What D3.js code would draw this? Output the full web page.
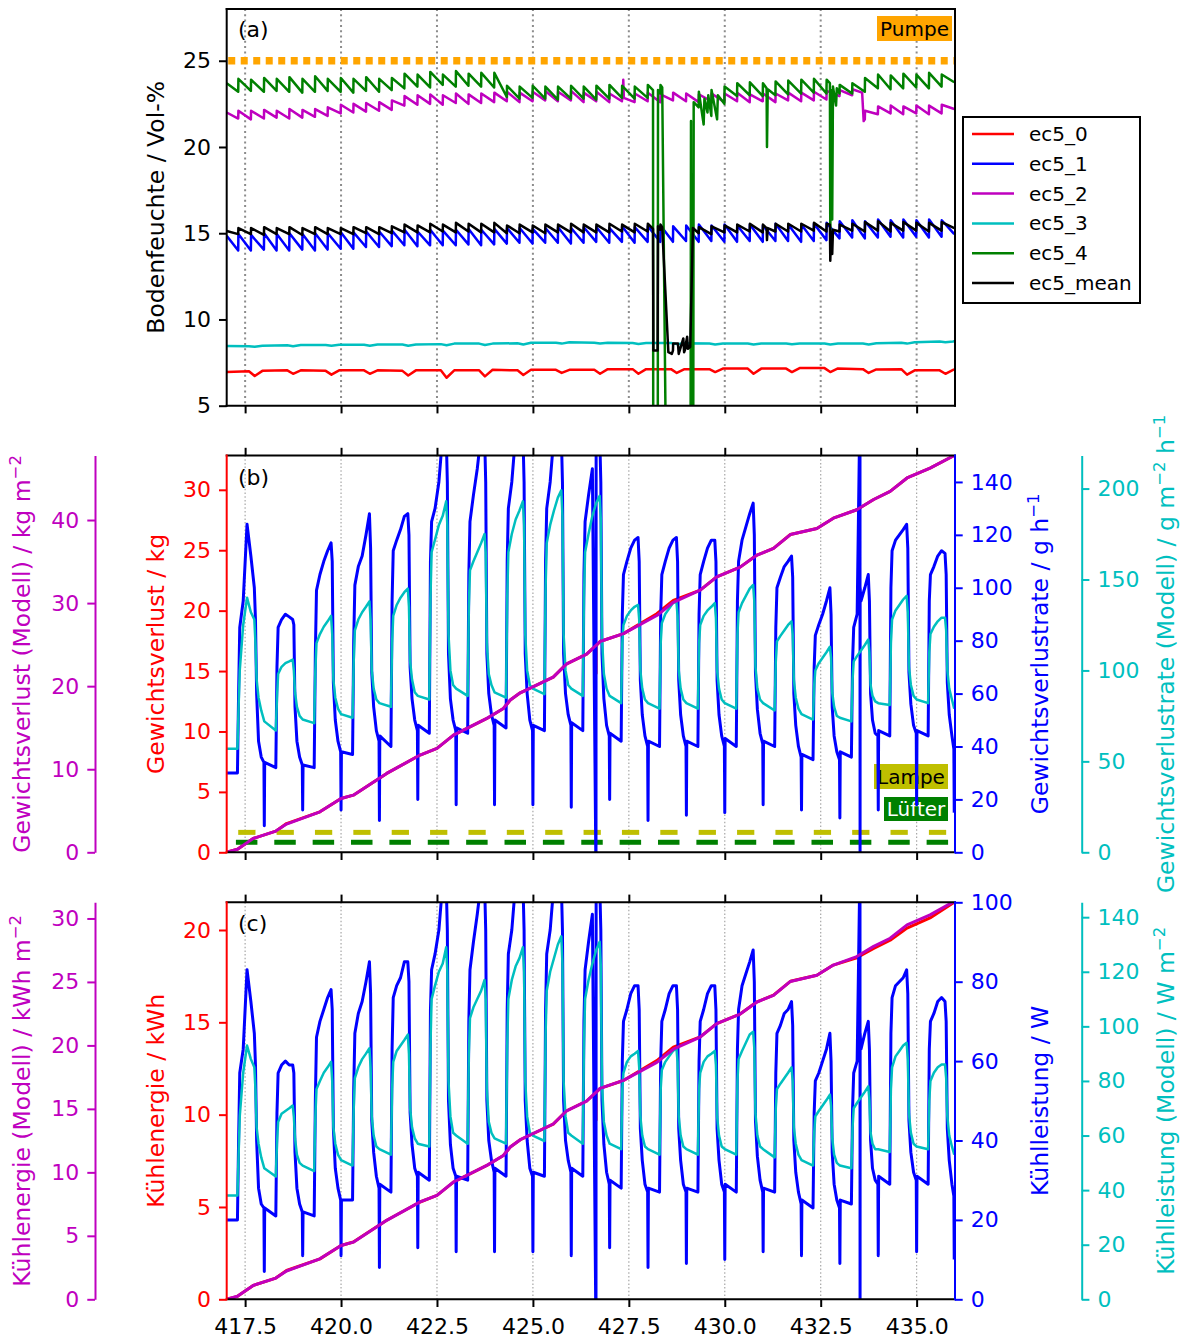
<!DOCTYPE html>
<html><head><meta charset="utf-8">
<script src="https://cdn.jsdelivr.net/npm/d3@7"></script>
<style>body{margin:0;background:#fff}svg{display:block}</style>
</head><body><svg id="c" width="1184" height="1338"></svg>
<script>
// ---------------- DATA ----------------
const xDomain = [417.02, 436.0];
const xTicks = [417.5, 420.0, 422.5, 425.0, 427.5, 430.0, 432.5, 435.0];
const days = [417,418,419,420,421,422,423,424,425,426,427,428,429,430,431,432,433,434,435];

// Panel (a): pump events (sawtooth jumps)
const pumpT = [417.32,417.65,417.99,418.32,418.65,418.99,419.32,419.65,419.99,420.32,420.65,420.99,
 421.32,421.65,421.99,422.32,422.65,422.99,423.32,423.65,423.99,424.32,424.65,424.99,425.32,425.65,425.99,
 426.32,426.65,426.99,427.32,427.65,427.99,428.32,428.65,428.99,429.32,429.65,429.99,430.32,430.65,430.99,
 431.32,431.65,431.99,432.32,432.65,432.99,433.32,433.65,433.99,434.32,434.65,434.99,435.32,435.65];

const ec5_4_trough = [23.2,23.25,23.2,23.25,23.2,23.15,23.2,23.25,23.2,23.15,23.25,23.2,23.3,23.4,23.5,23.45,23.6,23.5,23.55,23.5,23.45,22.9,22.8,22.85,22.8,22.75,22.8,22.8,22.75,22.8,22.85,22.8,22.85,23.1,-12,-12,22.3,21.8,22.5,22.95,23.0,22.95,23.0,23.05,23.1,23.15,23.1,23.1,23.1,23.2,23.4,23.35,23.4,23.45,23.4,23.5];
const ec5_4_peak = [23.95,23.9,24.0,23.95,24.05,23.95,24.1,23.95,24.0,23.95,24.05,23.95,24.0,24.25,24.2,24.35,24.2,24.4,24.25,24.3,24.3,23.55,23.5,23.55,23.5,23.5,23.55,23.5,23.55,23.6,23.55,23.5,23.6,23.6,-12,-12,23.2,23.3,23.5,23.7,23.75,23.7,23.8,23.85,23.9,23.95,23.9,23.6,23.7,24.0,24.2,24.15,24.25,24.2,24.3,24.2];
const ec5_4_extra = [[417.02,23.7],[428.13,23.3],[428.14,-12],[428.25,-12],[428.26,23.3],[428.37,23.45],[428.53,-12],[429.10,-12],[429.12,21.5],[429.14,-12],[429.17,-12],[429.19,22.6],[429.45,21.3],[429.47,22.8],[429.55,22.0],[429.57,23.0],[429.8,21.6],[429.82,23.0],[431.09,23.4],[431.10,20.0],[431.12,23.35],[432.74,23.7],[432.75,14.5],[432.77,23.3],[432.80,15.8],[432.82,23.5],[432.90,22.4],[432.92,23.4],[435.98,23.75]];

const ec5_mean_trough = [14.95,14.95,14.9,14.95,14.95,14.9,14.95,14.95,14.95,14.95,15.0,14.95,15.0,15.05,15.05,15.05,15.1,15.05,15.1,15.05,15.05,15.0,15.0,15.05,15.0,15.05,15.05,15.05,15.05,15.05,15.1,15.05,15.1,15.2,8.2,8.4,15.0,14.95,15.05,15.05,15.1,15.05,15.1,15.1,15.1,15.15,15.1,15.1,15.15,15.1,15.15,15.1,15.15,15.15,15.1,15.15];
const ec5_mean_peak = [15.3,15.3,15.35,15.3,15.35,15.3,15.35,15.3,15.3,15.35,15.35,15.35,15.4,15.5,15.45,15.55,15.5,15.6,15.55,15.55,15.6,15.45,15.5,15.45,15.5,15.5,15.55,15.5,15.5,15.55,15.5,15.55,15.55,15.5,8.6,8.7,15.35,15.4,15.45,15.5,15.55,15.5,15.55,15.55,15.55,15.6,15.55,15.5,15.55,15.65,15.7,15.6,15.65,15.6,15.6,15.65];
const ec5_mean_extra = [[417.02,15.13],[428.13,15.25],[428.14,8.2],[428.25,8.2],[428.26,15.4],[428.37,15.35],[428.53,8.1],[428.62,8.0],[428.78,8.6],[428.80,8.0],[428.92,8.9],[428.94,8.1],[429.02,9.0],[429.04,8.3],[429.10,8.4],[429.17,15.3],[431.09,15.3],[431.10,14.6],[431.12,15.3],[432.74,15.5],[432.75,13.4],[432.77,15.1],[432.80,13.8],[432.82,15.2],[435.98,15.3]];

const ec5_1_trough = [14.0,14.0,14.05,14.0,14.0,14.05,14.0,14.05,14.1,14.1,14.2,14.2,14.25,14.3,14.25,14.3,14.3,14.3,14.35,14.3,14.35,14.4,14.45,14.4,14.45,14.45,14.4,14.45,14.5,14.45,14.5,14.45,14.5,14.5,14.5,14.55,14.5,14.55,14.5,14.5,14.55,14.5,14.55,14.55,14.5,14.55,14.6,14.7,14.75,14.7,14.75,14.8,14.75,14.8,14.75,14.8];
const ec5_1_peak = [14.95,14.9,15.0,14.95,15.0,14.95,15.0,15.0,15.05,15.05,15.1,15.1,15.15,15.2,15.1,15.2,15.15,15.2,15.25,15.2,15.25,15.3,15.3,15.25,15.3,15.35,15.3,15.35,15.35,15.3,15.4,15.35,15.4,15.45,15.4,15.45,15.5,15.45,15.5,15.45,15.5,15.45,15.55,15.5,15.5,15.55,15.6,15.7,15.75,15.7,15.8,15.75,15.8,15.75,15.8,15.75];
const ec5_1_extra = [[417.02,14.85],[435.98,14.95]];

const ec5_2_trough = [21.65,21.6,21.65,21.7,21.65,21.7,21.75,21.8,21.95,22.0,22.05,22.1,22.15,22.4,22.45,22.5,22.45,22.55,22.5,22.55,22.6,22.65,22.6,22.65,22.7,22.65,22.7,22.6,22.65,22.6,22.65,22.6,22.65,22.6,22.7,22.65,22.6,22.65,22.6,22.65,22.6,22.65,22.6,22.7,22.65,22.7,22.75,22.95,23.0,21.6,21.9,21.95,21.9,21.95,21.9,21.95];
const ec5_2_peak = [22.1,22.1,22.15,22.1,22.2,22.15,22.2,22.3,22.45,22.5,22.55,22.6,22.7,22.95,23.0,23.05,23.0,23.1,23.05,23.1,23.15,23.2,23.15,23.2,23.25,23.2,23.25,23.15,23.2,23.1,23.15,23.1,23.15,23.05,23.15,23.1,23.05,23.1,23.1,23.15,23.05,23.1,23.1,23.15,23.15,23.2,23.25,23.3,23.35,22.1,22.35,22.4,22.35,22.4,22.4,22.45];
const ec5_2_extra = [[417.02,22.0],[427.34,22.8],[427.355,23.9],[427.37,22.85],[433.58,23.15],[433.62,21.5],[435.98,22.2]];

// ec5_0 and ec5_3: daily values at phases .60 / .75 / .95
const soilPhases = [0.60, 0.75, 0.95];
const ec5_0_daily = [[7.0,6.72,7.02],[7.05,6.85,7.05],[7.02,6.8,7.05],[7.05,6.85,7.05],[7.02,6.75,7.05],[7.05,6.62,7.05],[7.05,6.7,7.08],[7.05,6.78,7.08],[7.08,6.9,7.08],[7.08,6.85,7.12],[7.12,6.85,7.12],[7.12,6.9,7.12],[7.12,6.95,7.15],[7.15,6.85,7.15],[7.15,6.95,7.18],[7.18,6.95,7.16],[7.12,6.9,7.1],[7.12,6.8,7.05],[7.05,6.85,7.08]];
const ec5_0_extra = [[417.02,6.95],[435.98,7.1]];
const ec5_3_daily = [[8.45,8.42,8.48],[8.5,8.45,8.52],[8.52,8.47,8.53],[8.53,8.47,8.55],[8.55,8.48,8.55],[8.57,8.5,8.6],[8.6,8.52,8.6],[8.62,8.55,8.65],[8.65,8.6,8.68],[8.65,8.6,8.65],[8.63,8.58,8.63],[8.63,8.57,8.62],[8.6,8.55,8.6],[8.6,8.55,8.6],[8.6,8.56,8.6],[8.6,8.55,8.6],[8.6,8.55,8.62],[8.65,8.6,8.68],[8.72,8.68,8.72]];
const ec5_3_extra = [[417.02,8.46],[435.98,8.74]];

// Panel (b)/(c): measured rate (phases within each day)
const ratePhases = [0.00,0.01,0.30,0.33,0.36,0.45,0.55,0.65,0.74,0.77,0.80,0.85,0.92,0.99];
const rateB = [
 [30,30,30,60,85,95,124,112,100,88,60,42,36,34],
 [10,34,32,70,85,88,90,89,88,86,55,42,36,33],
 [16,33,32,75,99,105,110,114,117,110,64,50,42,38],
 [16,38,37,80,101,108,112,120,128,115,68,55,46,42],
 [12,44,40,95,114,118,122,127,128,120,70,58,50,46],
 [20,48,45,110,125,130,140,158,158,140,75,58,50,46],
 [18,47,45,105,125,135,145,158,158,140,75,60,52,48],
 [18,50,47,110,130,140,158,158,158,140,75,60,50,46],
 [18,48,46,110,130,140,158,158,158,140,75,60,52,48],
 [17,49,46,105,125,135,145,158,158,140,75,58,48,44],
 [20,45,42,90,105,110,115,118,119,110,65,52,44,40],
 [12,42,40,90,105,110,115,118,119,110,65,52,44,40],
 [14,42,40,90,105,110,115,118,118,110,65,52,44,40],
 [15,43,40,95,110,118,123,128,132,120,68,54,45,41],
 [18,42,40,85,100,104,108,110,112,104,60,48,40,36],
 [16,37,35,70,82,86,90,95,100,90,55,44,38,35],
 [13,38,36,72,85,90,95,100,105,95,60,50,45,44],
 [16,46,44,100,114,118,120,122,124,115,68,56,48,45],
 [18,46,44,95,105,108,112,114,113,105,64,52,44,40]];
const rateB_extra = [[417.02,30],[426.644,-10],[426.648,158],[433.524,170],[433.526,-10],[433.528,100],[435.97,39],[435.98,15]];
const powerC = [
 [20,20,20,40,57,63,83,75,67,59,40,28,24,23],
 [7,23,21,47,57,59,60,59,59,57,37,28,24,22],
 [11,22,21,50,66,70,73,76,78,73,43,33,28,25],
 [11,25,25,53,67,72,75,80,85,77,45,37,31,28],
 [8,29,27,63,76,79,81,85,85,80,47,39,33,31],
 [13,32,30,73,83,87,93,105,105,93,50,39,33,31],
 [12,31,30,70,83,90,97,105,105,93,50,40,35,32],
 [12,33,31,73,87,93,105,105,105,93,50,40,33,31],
 [12,32,31,73,87,93,105,105,105,93,50,40,35,32],
 [11,33,31,70,83,90,97,105,105,93,50,39,32,29],
 [13,30,28,60,70,73,77,79,79,73,43,35,29,27],
 [8,28,27,60,70,73,77,79,79,73,43,35,29,27],
 [9,28,27,60,70,73,77,79,79,73,43,35,29,27],
 [10,29,27,63,73,79,82,85,88,80,45,36,30,27],
 [12,28,27,57,67,69,72,73,75,69,40,32,27,24],
 [11,25,23,47,55,57,60,63,67,60,37,29,25,23],
 [9,25,24,48,57,60,63,67,70,63,40,33,30,29],
 [11,31,29,67,76,79,80,81,83,77,45,37,32,30],
 [12,31,29,63,70,72,75,76,75,70,43,35,29,27]];
const powerC_extra = [[417.02,20],[426.644,-10],[426.648,105],[433.524,110],[433.526,-10],[433.528,67],[435.97,26],[435.98,10]];

// Model rates
const modelPhases = [0.00,0.30,0.33,0.36,0.45,0.55,0.65,0.74,0.77,0.80,0.85,0.92];
const rateModelB = [
 [57,57,80,100,125,140,132,128,115,95,85,78],
 [72,67,85,98,102,104,105,106,100,88,80,75],
 [73,71,100,115,120,124,127,130,120,95,85,79],
 [76,74,105,122,128,132,135,138,128,100,90,84],
 [82,80,115,130,136,140,143,145,135,105,95,88],
 [86,84,140,165,172,180,185,193,180,120,100,92],
 [90,86,135,155,160,165,170,175,165,115,98,92],
 [88,85,140,165,175,183,188,193,180,120,100,92],
 [90,87,145,170,180,188,195,199,185,120,100,92],
 [90,86,140,165,175,185,192,196,183,118,98,90],
 [86,82,115,125,130,133,135,136,128,100,90,84],
 [82,79,115,126,131,134,137,138,130,100,90,84],
 [82,79,115,125,130,133,135,137,129,100,90,84],
 [82,79,120,132,137,141,145,147,138,102,90,84],
 [82,78,105,116,119,122,125,127,120,95,85,79],
 [76,73,92,100,104,107,110,113,107,88,80,75],
 [74,72,95,105,108,111,114,117,110,92,86,83],
 [82,81,115,128,133,136,139,141,132,102,92,86],
 [84,82,110,120,124,127,129,129,122,100,90,84]];
const rateModelB_extra = [[417.02,57],[435.98,79]];
const powerModelC = [
 [38,38,53,67,83,93,88,85,77,63,57,52],
 [48,45,57,65,68,69,70,71,67,59,53,50],
 [49,47,67,77,80,83,85,87,80,63,57,53],
 [51,49,70,81,85,88,90,92,85,67,60,56],
 [55,53,77,87,91,93,95,97,90,70,63,59],
 [57,56,93,110,115,120,123,129,120,80,67,61],
 [60,57,90,103,107,110,113,117,110,77,65,61],
 [59,57,93,110,117,122,125,129,120,80,67,61],
 [60,58,97,113,120,125,130,133,123,80,67,61],
 [60,57,93,110,117,123,128,131,122,79,65,60],
 [57,55,77,83,87,89,90,91,85,67,60,56],
 [55,53,77,84,87,89,91,92,87,67,60,56],
 [55,53,77,83,87,89,90,91,86,67,60,56],
 [55,53,80,88,91,94,97,98,92,68,60,56],
 [55,52,70,77,79,81,83,85,80,63,57,53],
 [51,49,61,67,69,71,73,75,71,59,53,50],
 [49,48,63,70,72,74,76,78,73,61,57,55],
 [55,54,77,85,89,91,93,94,88,68,61,57],
 [56,55,73,80,83,85,86,86,81,67,60,56]];
const powerModelC_extra = [[417.02,38],[435.98,53]];

// Cumulative series
const tCum = [417.02,417.30,417.71,418.30,418.58,419.45,420.00,420.32,421.19,422.06,422.50,422.93,423.80,424.23,424.41,424.67,425.53,425.88,426.40,426.75,427.36,428.23,428.66,429.36,429.79,430.40,430.84,431.27,431.71,432.40,432.83,433.44,433.88,434.31,434.75,435.35,435.98];
const lossB = [0,0.25,1.14,1.75,2.38,3.35,4.45,4.73,6.53,8.05,8.6,9.7,11.08,11.9,12.6,13.2,14.5,15.6,16.4,17.45,18.1,19.75,20.85,21.7,22.8,23.6,24.6,25.15,26.3,26.8,27.65,28.35,29.2,29.87,30.98,31.8,32.84];
const lossB_extra = [[426.643,17.1],[426.645,14.8],[426.647,17.1]];
const lossModelB = [0,0.36,1.66,2.55,3.40,4.87,6.47,6.88,9.50,11.71,12.51,14.11,16.12,17.31,18.33,19.2,21.09,22.69,23.85,25.38,26.33,28.5,30.1,31.56,33.16,34.33,35.78,36.58,38.25,38.98,40.22,41.24,42.47,43.45,45.06,46.25,47.77];
const energyC = [0,0.16,0.75,1.15,1.56,2.19,2.91,3.1,4.28,5.27,5.63,6.35,7.25,7.79,8.25,8.64,9.49,10.21,10.74,11.42,11.85,12.93,13.65,14.21,14.93,15.45,16.11,16.47,17.22,17.55,18.1,18.5,19.0,19.45,20.1,20.65,21.5];
const energyC_extra = [[426.643,11.2],[426.645,9.7],[426.647,11.2]];
const energyModelC = [0,0.24,1.09,1.67,2.23,3.19,4.24,4.5,6.22,7.67,8.19,9.24,10.55,11.33,12.0,12.57,13.81,14.85,15.61,16.61,17.24,18.66,19.7,20.66,21.71,22.47,23.42,23.94,25.04,25.52,26.33,27.0,27.8,28.44,29.5,30.28,31.35];

// Device state (on intervals)
const lampOn = [[417.32,417.77],[418.32,418.77],[419.32,419.77],[420.32,420.77],[421.32,421.77],[422.32,422.77],[423.32,423.77],[424.32,424.77],[425.32,425.77],[426.32,426.77],[427.32,427.77],[428.32,428.77],[429.32,429.77],[430.32,430.77],[431.32,431.77],[432.32,432.77],[433.32,433.77],[434.32,434.77],[435.32,435.77]];
const fanOn = [[417.26,417.82],[418.26,418.82],[419.26,419.82],[420.26,420.82],[421.26,421.82],[422.26,422.82],[423.26,423.82],[424.26,424.82],[425.26,425.82],[426.26,426.82],[427.26,427.82],[428.26,428.82],[429.26,429.82],[430.26,430.82],[431.26,431.82],[432.26,432.82],[433.26,433.82],[434.26,434.82],[435.26,435.82]];
const pumpRange = [417.06, 435.97];
const pumpLevel = 25, lampLevel = 1.65, fanLevel = 0.83;

const legendNames = ['ec5_0','ec5_1','ec5_2','ec5_3','ec5_4','ec5_mean'];
const soilTicks = [5,10,15,20,25];
const lossTicks = [0,5,10,15,20,25,30], lossModelTicks = [0,10,20,30,40];
const rateTicks = [0,20,40,60,80,100,120,140], rateModelTicks = [0,50,100,150,200];
const energyTicks = [0,5,10,15,20], energyModelTicks = [0,5,10,15,20,25,30];
const powerTicks = [0,20,40,60,80,100], powerModelTicks = [0,20,40,60,80,100,120,140];

// ---------------- DRAWING ----------------
const FONT = '"DejaVu Sans", Verdana, sans-serif';
const C = {red:'#ff0000', blue:'#0000ff', mag:'#bf00bf', cyan:'#00bfbf', green:'#008000', black:'#000000', orange:'#ffa500', olive:'#bfbf00'};
const L = 226.7, R = 955;
const PA = [9, 405.7], PB = [455.5, 852.3], PC = [902.3, 1299.3];
const svg = d3.select('#c');
const x = d3.scaleLinear().domain(xDomain).range([L, R]);
const AREA = 0.6875;

const yA = d3.scaleLinear().domain([5, 28]).range([PA[1], PA[0]]);
const yBr = d3.scaleLinear().domain([0, 32.84]).range([PB[1], PB[0]]);
const yBm = d3.scaleLinear().domain([0, 32.84 / AREA]).range([PB[1], PB[0]]);
const yBb = d3.scaleLinear().domain([0, 150]).range([PB[1], PB[0]]);
const yBc = d3.scaleLinear().domain([0, 150 / AREA]).range([PB[1], PB[0]]);
const yCr = d3.scaleLinear().domain([0, 21.5]).range([PC[1], PC[0]]);
const yCm = d3.scaleLinear().domain([0, 21.5 / AREA]).range([PC[1], PC[0]]);
const yCb = d3.scaleLinear().domain([0, 100]).range([PC[1], PC[0]]);
const yCc = d3.scaleLinear().domain([0, 100 / AREA]).range([PC[1], PC[0]]);

function daily(phases, table, extra) {
  const pts = [];
  days.forEach((d, i) => phases.forEach((p, j) => { const t = d + p; if (t >= 417.02 && t <= 435.965) pts.push([t, table[i][j]]); }));
  return pts.concat(extra).sort((a, b) => a[0] - b[0]);
}
function saw(troughs, peaks, extra) {
  const pts = [];
  pumpT.forEach((t, k) => { pts.push([t, troughs[k]], [t + 0.005, peaks[k]]); });
  return pts.concat(extra).sort((a, b) => a[0] - b[0]);
}
function cum(vals, extra) {
  return tCum.map((t, i) => [t, vals[i]]).concat(extra || []).sort((a, b) => a[0] - b[0]);
}

const defs = svg.append('defs');
[['clipA', PA], ['clipB', PB], ['clipC', PC]].forEach(([id, p]) => {
  defs.append('clipPath').attr('id', id).append('rect').attr('x', L).attr('y', p[0]).attr('width', R - L).attr('height', p[1] - p[0]);
});

function grid(p, w, col, dash) {
  svg.append('g').selectAll('line').data(xTicks).join('line')
    .attr('x1', d => x(d)).attr('x2', d => x(d)).attr('y1', p[0]).attr('y2', p[1])
    .attr('stroke', col).attr('stroke-width', w).attr('stroke-dasharray', dash);
}
function drawLine(pts, ys, color, w, clip) {
  svg.append('path').datum(pts)
    .attr('d', d3.line().x(d => x(d[0])).y(d => ys(d[1])))
    .attr('fill', 'none').attr('stroke', color).attr('stroke-width', w)
    .attr('stroke-linejoin', 'round').attr('clip-path', `url(#${clip})`);
}
function yAxis(scale, xpos, side, color, ticks, keepDomain) {
  const gen = (side === 'left' ? d3.axisLeft(scale) : d3.axisRight(scale))
    .tickValues(ticks).tickSize(7.7).tickPadding(8).tickSizeOuter(0).tickFormat(d3.format('d'));
  const g = svg.append('g').attr('transform', `translate(${xpos},0)`).call(gen);
  g.attr('font-family', FONT).attr('font-size', 22);
  g.selectAll('.tick line').attr('stroke', color).attr('stroke-width', 2);
  g.selectAll('text').attr('fill', color);
  if (keepDomain) g.select('.domain').attr('stroke', color).attr('stroke-width', 2);
  else g.select('.domain').remove();
}
function xAxis(ypos, orient, labels) {
  const gen = (orient === 'bottom' ? d3.axisBottom(x) : d3.axisTop(x))
    .tickValues(xTicks).tickSize(7.7).tickPadding(11).tickSizeOuter(0)
    .tickFormat(labels ? d3.format('.1f') : () => '');
  const g = svg.append('g').attr('transform', `translate(0,${ypos})`).call(gen);
  g.attr('font-family', FONT).attr('font-size', 22);
  g.selectAll('.tick line').attr('stroke', '#000').attr('stroke-width', 2);
  g.selectAll('text').attr('fill', '#000');
  g.select('.domain').remove();
}
function spines(p, leftCol, rightCol) {
  const s = [[L, p[0], R, p[0], '#000'], [L, p[1], R, p[1], '#000'], [L, p[0], L, p[1], leftCol], [R, p[0], R, p[1], rightCol]];
  svg.append('g').selectAll('line').data(s).join('line')
    .attr('x1', d => d[0]).attr('y1', d => d[1]).attr('x2', d => d[2]).attr('y2', d => d[3])
    .attr('stroke', d => d[4]).attr('stroke-width', 2).attr('stroke-linecap', 'square');
}
function ylabel(cx, cy, parts, color) {
  const t = svg.append('text').attr('transform', `translate(${cx},${cy}) rotate(-90)`)
    .attr('text-anchor', 'middle').attr('dy', '0.35em').attr('fill', color)
    .attr('font-family', FONT).attr('font-size', 23.5);
  let up = false;
  parts.forEach(p => {
    if (typeof p === 'string') { const s = t.append('tspan').text(p); if (up) { s.attr('dy', 9); up = false; } }
    else { t.append('tspan').attr('font-size', 16.5).attr('dy', -9).text(p.sup); up = true; }
  });
}
function panelTag(txt, yb) {
  svg.append('text').attr('x', 238).attr('y', yb).attr('font-family', FONT).attr('font-size', 22).attr('fill', '#000').text(txt);
}
function box(x0, y0, w, h, fill, txt, tcol) {
  svg.append('rect').attr('x', x0).attr('y', y0).attr('width', w).attr('height', h).attr('fill', fill);
  svg.append('text').attr('x', x0 + w / 2).attr('y', y0 + h / 2).attr('dy', '0.36em').attr('text-anchor', 'middle')
    .attr('font-family', FONT).attr('font-size', 20).attr('fill', tcol).text(txt);
}

// ---- Panel (a)
grid(PA, 2, '#8c8c8c', '2,3.3');
svg.append('line').attr('x1', x(pumpRange[0])).attr('x2', x(pumpRange[1])).attr('y1', yA(pumpLevel)).attr('y2', yA(pumpLevel))
  .attr('stroke', C.orange).attr('stroke-width', 7.5).attr('stroke-dasharray', '7,5.5');
drawLine(daily(soilPhases, ec5_0_daily, ec5_0_extra), yA, C.red, 2.5, 'clipA');
drawLine(saw(ec5_1_trough, ec5_1_peak, ec5_1_extra), yA, C.blue, 2.5, 'clipA');
drawLine(saw(ec5_2_trough, ec5_2_peak, ec5_2_extra), yA, C.mag, 2.5, 'clipA');
drawLine(daily(soilPhases, ec5_3_daily, ec5_3_extra), yA, C.cyan, 2.5, 'clipA');
drawLine(saw(ec5_4_trough, ec5_4_peak, ec5_4_extra), yA, C.green, 2.5, 'clipA');
drawLine(saw(ec5_mean_trough, ec5_mean_peak, ec5_mean_extra), yA, C.black, 2.5, 'clipA');
spines(PA, '#000', '#000');
yAxis(yA, L, 'left', '#000', soilTicks, false);
xAxis(PA[1], 'bottom', false);
ylabel(156, (PA[0] + PA[1]) / 2, ['Bodenfeuchte / Vol-%'], '#000');
panelTag('(a)', 37);
box(877, 16, 75, 25, C.orange, 'Pumpe', '#000');

// legend
const leg = svg.append('g');
leg.append('rect').attr('x', 963).attr('y', 117).attr('width', 177).attr('height', 186).attr('fill', '#fff').attr('stroke', '#000').attr('stroke-width', 2);
const legCols = [C.red, C.blue, C.mag, C.cyan, C.green, C.black];
legendNames.forEach((n, i) => {
  const yy = 134 + i * 29.8;
  leg.append('line').attr('x1', 972).attr('x2', 1014).attr('y1', yy).attr('y2', yy).attr('stroke', legCols[i]).attr('stroke-width', 2.5);
  leg.append('text').attr('x', 1029).attr('y', yy).attr('dy', '0.35em').attr('font-family', FONT).attr('font-size', 20).text(n);
});

// ---- Panel (b)
grid(PB, 1.2, '#a6a6a6', '1.5,2.2');
drawLine(cum(lossB, lossB_extra), yBr, C.red, 3, 'clipB');
svg.append('g').selectAll('line').data(lampOn).join('line')
  .attr('x1', d => x(d[0])).attr('x2', d => x(d[1])).attr('y1', yBr(lampLevel)).attr('y2', yBr(lampLevel))
  .attr('stroke', C.olive).attr('stroke-width', 5);
svg.append('g').selectAll('line').data(fanOn).join('line')
  .attr('x1', d => x(d[0])).attr('x2', d => x(d[1])).attr('y1', yBr(fanLevel)).attr('y2', yBr(fanLevel))
  .attr('stroke', C.green).attr('stroke-width', 5);
box(874, 764, 74, 25, C.olive, 'Lampe', '#000');
box(884, 797, 64, 24, C.green, 'Lüfter', '#fff');
drawLine(daily(ratePhases, rateB, rateB_extra), yBb, C.blue, 3, 'clipB');
drawLine(daily(modelPhases, rateModelB, rateModelB_extra), yBc, C.cyan, 2.5, 'clipB');
drawLine(cum(lossModelB), yBm, C.mag, 3, 'clipB');
spines(PB, C.red, C.blue);
yAxis(yBr, L, 'left', C.red, lossTicks, false);
yAxis(yBb, R, 'right', C.blue, rateTicks, false);
yAxis(yBm, 95, 'left', C.mag, lossModelTicks, true);
yAxis(yBc, 1081.7, 'right', C.cyan, rateModelTicks, true);
xAxis(PB[0], 'top', false);
xAxis(PB[1], 'bottom', false);
const cyB = (PB[0] + PB[1]) / 2;
ylabel(156, cyB, ['Gewichtsverlust / kg'], C.red);
ylabel(22, cyB, ['Gewichtsverlust (Modell) / kg m', {sup: '\u22122'}], C.mag);
ylabel(1040, cyB, ['Gewichtsverlustrate / g h', {sup: '\u22121'}], C.blue);
ylabel(1166, cyB, ['Gewichtsverlustrate (Modell) / g m', {sup: '\u22122'}, ' h', {sup: '\u22121'}], C.cyan);
panelTag('(b)', PB[0] + 29);

// ---- Panel (c)
grid(PC, 1.2, '#a6a6a6', '1.5,2.2');
drawLine(cum(energyC, energyC_extra), yCr, C.red, 3, 'clipC');
drawLine(daily(ratePhases, powerC, powerC_extra), yCb, C.blue, 3, 'clipC');
drawLine(daily(modelPhases, powerModelC, powerModelC_extra), yCc, C.cyan, 2.5, 'clipC');
drawLine(cum(energyModelC), yCm, C.mag, 3, 'clipC');
spines(PC, C.red, C.blue);
yAxis(yCr, L, 'left', C.red, energyTicks, false);
yAxis(yCb, R, 'right', C.blue, powerTicks, false);
yAxis(yCm, 95, 'left', C.mag, energyModelTicks, true);
yAxis(yCc, 1081.7, 'right', C.cyan, powerModelTicks, true);
xAxis(PC[0], 'top', false);
xAxis(PC[1], 'bottom', true);
const cyC = (PC[0] + PC[1]) / 2;
ylabel(156, cyC, ['Kühlenergie / kWh'], C.red);
ylabel(22, cyC, ['Kühlenergie (Modell) / kWh m', {sup: '\u22122'}], C.mag);
ylabel(1040, cyC, ['Kühlleistung / W'], C.blue);
ylabel(1166, cyC, ['Kühlleistung (Modell) / W m', {sup: '\u22122'}], C.cyan);
panelTag('(c)', PC[0] + 29);
</script></body></html>
